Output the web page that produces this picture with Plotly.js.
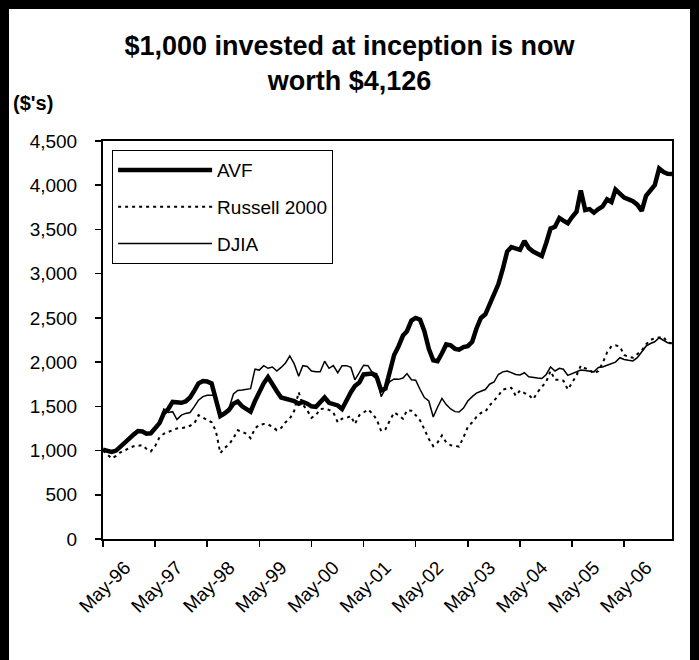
<!DOCTYPE html>
<html>
<head>
<meta charset="utf-8">
<script src="https://cdn.plot.ly/plotly-3.0.1.min.js"></script>
<style>
  html, body { margin: 0; padding: 0; background: #fff; }
  #wrap { position: relative; width: 699px; height: 660px; }
  #chart { position: absolute; left: 0; top: 0; width: 699px; height: 660px; }
  #frame { position: absolute; left: 0; top: 0; width: 699px; height: 660px; box-sizing: border-box;
           border-left: 9px solid #000; border-top: 9px solid #000; border-right: 9px solid #000;
           pointer-events: none; }
</style>
</head>
<body>
<div id="wrap"><div id="chart"></div><div id="frame"></div></div>
<script>
// Monthly observations, May-96 through Apr-07
const firstMonth = [1996, 5];
const monthCount = 132;

const tickDates = ["1996-05-01","1997-05-01","1998-05-01","1999-05-01","2000-05-01","2001-05-01",
                   "2002-05-01","2003-05-01","2004-05-01","2005-05-01","2006-05-01"];
const tickLabels = ["May-96","May-97","May-98","May-99","May-00","May-01",
                    "May-02","May-03","May-04","May-05","May-06"];

const avf = [
  1010, 995, 985, 1000, 1040, 1090, 1135, 1180, 1220, 1215, 1190, 1195,
  1260, 1310, 1420, 1470, 1550, 1545, 1540, 1555, 1600, 1680, 1760, 1785,
  1780, 1760, 1570, 1390, 1420, 1460, 1530, 1555, 1500, 1460, 1440, 1560,
  1660, 1760, 1830, 1740, 1670, 1600, 1590, 1575, 1560, 1530, 1550, 1530,
  1500, 1495, 1550, 1600, 1540, 1530, 1510, 1470, 1580, 1660, 1730, 1770,
  1860, 1870, 1870, 1830, 1680, 1700, 1900, 2080, 2180, 2300, 2350, 2470,
  2500, 2480, 2350, 2150, 2020, 2010, 2100, 2200, 2190, 2150, 2140, 2170,
  2180, 2230, 2380, 2500, 2540, 2650, 2780, 2880, 3050, 3250, 3300, 3290,
  3270, 3370, 3290, 3250, 3230, 3200, 3350, 3510, 3530, 3630, 3600, 3570,
  3640, 3700, 3940, 3720, 3730, 3690, 3730, 3760, 3840, 3810, 3950, 3900,
  3860, 3840, 3820, 3780, 3710, 3880, 3940, 4000, 4190, 4150, 4130, 4126
];

const russell2000 = [
  1000, 950, 910, 940, 980, 1000, 1030, 1048, 1055, 1060, 1020, 990,
  1050, 1150, 1190, 1210, 1235, 1250, 1255, 1260, 1280, 1310, 1400, 1375,
  1350, 1320, 1220, 970, 1030, 1070, 1140, 1230, 1210, 1190, 1140, 1250,
  1290, 1300, 1295, 1270, 1230, 1255, 1320, 1360, 1450, 1660, 1520, 1455,
  1370, 1400, 1470, 1475, 1460, 1430, 1320, 1360, 1370, 1390, 1300, 1400,
  1430, 1465, 1420, 1350, 1220, 1240, 1340, 1430, 1400, 1360, 1455, 1450,
  1400, 1340, 1240, 1130, 1050, 1090, 1170, 1090, 1060, 1050, 1045, 1150,
  1265, 1320, 1380, 1425, 1440, 1510, 1560, 1620, 1690, 1700, 1710, 1620,
  1680, 1650, 1630, 1580, 1660, 1720, 1780, 1900, 1800, 1800, 1790, 1690,
  1775, 1850, 1960, 1930, 1910, 1870, 1900, 1990, 2110, 2180, 2190, 2175,
  2080, 2060, 2050, 2085, 2130, 2200, 2250, 2270, 2280, 2285, 2220, 2210
];

const djia = [
  1010, 995, 990, 1010, 1050, 1100, 1150, 1200, 1230, 1210, 1185, 1200,
  1270, 1320, 1470, 1430, 1440, 1350, 1400, 1420, 1430, 1500, 1570, 1610,
  1625, 1625, 1625, 1400, 1440, 1480, 1640, 1680, 1685, 1690, 1700, 1920,
  1910, 1960, 1930, 1945, 1900, 1940, 1990, 2070, 1980, 1840, 1960, 1950,
  1900, 1890, 1890, 2010, 1930, 1960, 1880, 1960, 1960, 1940, 1800, 1880,
  1965, 1960, 1880, 1870, 1610, 1700, 1780, 1810, 1805, 1820, 1870, 1800,
  1795, 1690, 1600, 1560, 1380, 1490, 1590, 1520, 1470, 1440, 1435, 1480,
  1560, 1610, 1650, 1670, 1690, 1750, 1775, 1860, 1890, 1900, 1880, 1860,
  1855, 1880, 1835, 1825, 1820, 1815, 1860, 1945, 1900, 1930, 1920, 1850,
  1870, 1890, 1910, 1905, 1900, 1890, 1940, 1945, 1965, 1985, 2000, 2050,
  2030, 2020, 2013, 2050, 2110, 2180, 2210, 2230, 2275, 2250, 2220, 2215
];

const months = [];
for (let i = 0; i < monthCount; i++) {
  const t = (firstMonth[1] - 1) + i;
  const y = firstMonth[0] + Math.floor(t / 12);
  const m = (t % 12) + 1;
  months.push(y + "-" + (m < 10 ? "0" + m : m) + "-01");
}

const FONT = "Liberation Sans, Arial, sans-serif";

const traces = [
  { x: months, y: avf, name: "AVF", type: "scatter", mode: "lines",
    line: { color: "#000", width: 4.5 }, legendgroup: "a" },
  { x: months, y: russell2000, name: "Russell 2000", type: "scatter", mode: "lines",
    line: { color: "#000", width: 2, dash: "3px,4px" }, legendgroup: "b" },
  { x: months, y: djia, name: "DJIA", type: "scatter", mode: "lines",
    line: { color: "#000", width: 1.5 }, legendgroup: "c" }
];

const layout = {
  width: 699, height: 660,
  paper_bgcolor: "#fff", plot_bgcolor: "#fff",
  margin: { l: 103, r: 27, t: 141, b: 121 },
  font: { family: FONT, color: "#000", size: 19 },
  title: { text: "<b>$1,000 invested at inception is now<br>worth $4,126</b>",
           font: { family: FONT, size: 27, color: "#000" },
           x: 0.5, xref: "container", xanchor: "center",
           yref: "container", y: 0.917, yanchor: "middle" },
  xaxis: {
    type: "date", range: ["1996-05-01", "2007-04-01"],
    tickvals: tickDates, ticktext: tickLabels, tickangle: -45,
    ticks: "outside", ticklen: 6, tickwidth: 1.5, tickcolor: "#000",
    ticklabelshift: 22, ticklabelstandoff: 2,
    showline: true, linecolor: "#000", linewidth: 2, mirror: true,
    showgrid: false, zeroline: false,
    tickfont: { family: FONT, size: 19, color: "#000" }
  },
  yaxis: {
    range: [0, 4500], dtick: 500, tick0: 0, tickformat: ",d",
    ticks: "outside", ticklen: 6, tickwidth: 1.5, tickcolor: "#000",
    showline: true, linecolor: "#000", linewidth: 2, mirror: true,
    showgrid: false, zeroline: false, ticklabelstandoff: 14,
    tickfont: { family: FONT, size: 19, color: "#000" }
  },
  showlegend: true,
  legend: {
    x: 0.016, y: 0.977, xanchor: "left", yanchor: "top",
    bgcolor: "#fff", bordercolor: "#000", borderwidth: 1,
    font: { family: FONT, size: 19, color: "#000" },
    traceorder: "grouped", tracegroupgap: 9, itemwidth: 94
  },
  annotations: [
    { text: "<b>($'s)</b>", xref: "paper", yref: "paper", x: -0.161, y: 1.095,
      xanchor: "left", yanchor: "middle", showarrow: false,
      font: { family: FONT, size: 20, color: "#000" } }
  ]
};

Plotly.newPlot("chart", traces, layout, { displayModeBar: false, staticPlot: true });
</script>
</body>
</html>
